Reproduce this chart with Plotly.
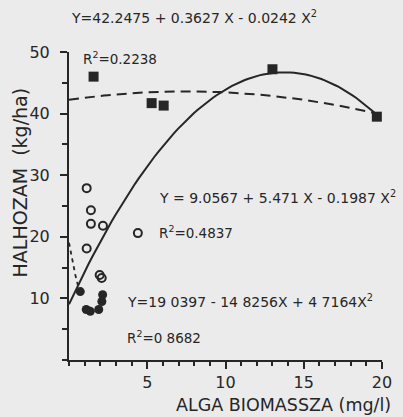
import numpy as np
import plotly.graph_objects as go

# Data
sq_x = [1.57, 5.28, 6.05, 13.0, 19.67]
sq_y = [46.0, 41.7, 41.3, 47.2, 39.5]

circ_x = [1.13, 1.40, 1.40, 2.17, 1.13, 4.40, 1.96, 2.09]
circ_y = [27.9, 24.3, 22.1, 21.8, 18.1, 20.6, 13.8, 13.3]

blob_x = [0.72, 1.10, 1.36, 1.90, 2.10, 2.15]
blob_y = [11.1, 8.2, 7.9, 8.2, 9.5, 10.6]

# regression coefficients (from printed equations)
c_dash = [42.2475, 0.3627, -0.0242]
c_solid = [9.0567, 5.471, -0.1987]
c_dd = [19.0397, -14.8256, 4.7164]

x_dash = np.linspace(0, 19.6, 80)
x_solid = np.linspace(0, 19.6, 80)
x_dd = np.linspace(0, 0.6, 10)

def poly(c, x):
    return c[0] + c[1] * x + c[2] * x ** 2

ink = "#262626"
font = "DejaVu Sans"

fig = go.Figure()
fig.add_trace(go.Scatter(x=x_dash, y=poly(c_dash, x_dash), mode="lines",
                         line=dict(color=ink, width=2, dash="10px,6px"), showlegend=False))
fig.add_trace(go.Scatter(x=x_solid, y=poly(c_solid, x_solid), mode="lines",
                         line=dict(color=ink, width=2), showlegend=False))
fig.add_trace(go.Scatter(x=x_dd, y=poly(c_dd, x_dd), mode="lines",
                         line=dict(color=ink, width=1.8, dash="4px,4px"), showlegend=False))
fig.add_trace(go.Scatter(x=sq_x, y=sq_y, mode="markers",
                         marker=dict(symbol="square", size=10, color=ink), showlegend=False))
fig.add_trace(go.Scatter(x=circ_x, y=circ_y, mode="markers",
                         marker=dict(symbol="circle-open", size=8, color=ink, line=dict(width=2)),
                         showlegend=False))
fig.add_trace(go.Scatter(x=blob_x, y=blob_y, mode="markers",
                         marker=dict(symbol="circle", size=9, color=ink), showlegend=False))

# in-plot annotations (data coordinates)
ann = [
    ("R<sup>2</sup>=0.2238", 0.75, 49.0, 13.5),
    ("Y = 9.0567 + 5.471 X - 0.1987 X<sup>2</sup>", 5.6, 26.4, 14),
    ("R<sup>2</sup>=0.4837", 5.65, 20.8, 13.5),
    ("Y=19 0397 - 14 8256X + 4 7164X<sup>2</sup>", 3.6, 9.5, 14),
    ("R<sup>2</sup>=0 8682", 3.6, 3.8, 13.5),
]
for t, x, y, s in ann:
    fig.add_annotation(text=t, x=x, y=y, xref="x", yref="y", xanchor="left", yanchor="middle",
                       showarrow=False, font=dict(family=font, size=s, color=ink))

# top equation (above plot)
fig.add_annotation(text="Y=42.2475 + 0.3627 X - 0.0242 X<sup>2</sup>", x=0.40, y=1.115,
                   xref="paper", yref="paper", xanchor="center", yanchor="middle",
                   showarrow=False, font=dict(family=font, size=14, color=ink))
# x axis title
fig.add_annotation(text="ALGA BIOMASSZA (mg/l)", x=0.337, y=-0.146,
                   xref="paper", yref="paper", xanchor="left", yanchor="middle",
                   showarrow=False, font=dict(family=font, size=17.5, color=ink))
# y axis title
fig.add_annotation(text="HALHOZAM  (kg/ha)", x=-0.158, y=0.575, textangle=-90,
                   xref="paper", yref="paper", xanchor="center", yanchor="middle",
                   showarrow=False, font=dict(family=font, size=19, color=ink))

fig.update_layout(
    width=403, height=417,
    margin=dict(l=69, r=11, t=52, b=57),
    paper_bgcolor="#ebebeb", plot_bgcolor="#ebebeb",
    font=dict(family=font, color=ink),
    xaxis=dict(range=[0, 20], tickvals=[5, 10, 15, 20], ticks="outside", ticklen=7,
               tickwidth=2, tickcolor=ink, showline=True, linecolor=ink, linewidth=2,
               showgrid=False, zeroline=False, tickfont=dict(size=16, color=ink),
               minor=dict(dtick=1, ticks="outside", ticklen=4, tickcolor=ink, tickwidth=1.5)),
    yaxis=dict(range=[0, 50], tickvals=[10, 20, 30, 40, 50], ticks="outside", ticklen=7,
               tickwidth=2, tickcolor=ink, showline=True, linecolor=ink, linewidth=2,
               showgrid=False, zeroline=False, tickfont=dict(size=16, color=ink),
               ticklabelstandoff=7,
               minor=dict(dtick=5, ticks="outside", ticklen=5, tickcolor=ink, tickwidth=1.5)),
)

fig.write_html("out.html")
